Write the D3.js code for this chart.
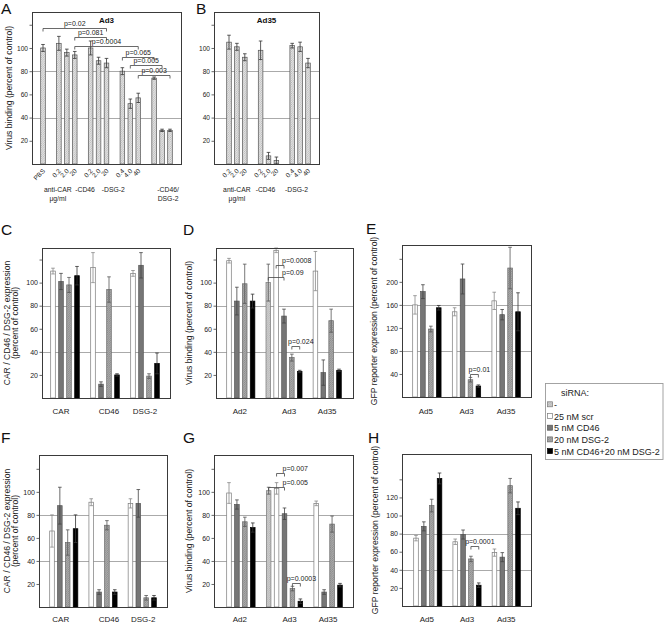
<!DOCTYPE html>
<html><head><meta charset="utf-8">
<script src="https://cdn.jsdelivr.net/npm/d3@7"></script>
<style>body{margin:0;background:#fff}svg{display:block}</style>
</head><body><svg id="c" width="664" height="624"></svg>
<script>
const FONT = '"Liberation Sans", Arial, Helvetica, sans-serif';
const seriesNames = ["-", "25 nM scr", "5 nM CD46", "20 nM DSG-2", "5 nM CD46+20 nM DSG-2"];

// ---------- Panel A (Ad3, antibody blocking) ----------
const aBarLabels = ["PBS","0.2","2.0","20","0.2","2.0","20","0.4","4.0","40","","",""];
const aGroupSizes = [1,3,3,3,3];
const aValues = [100,104,96,94,100,89,87,80,52,57,74,29,29];
const aErrors = [3,6,3,3,6,3,4,3,4,4,1,1,1];
const aGroupLabels = [null,["anti-CAR","μg/ml"],["-CD46"],["-DSG-2"],["-CD46/","DSG-2"]];
const aPvals = [
  {a:0,b:6,level:117,text:"p=0.02"},
  {a:3,b:6,level:109.5,text:"p=0.081"},
  {a:3,b:9,level:102,text:"p=0.0004"},
  {a:7,b:10,level:92,text:"p=0.065"},
  {a:8,b:11,level:85,text:"p=0.005"},
  {a:9,b:12,level:77,text:"p=0.003"}
];

// ---------- Panel B (Ad35, antibody blocking) ----------
const bBarLabels = ["0.2","2.0","20","0.2","2.0","20","0.4","4.0","40"];
const bGroupSizes = [3,3,3];
const bValues = [105,101,92,98,7,3,102,101,87];
const bErrors = [6,3,3,8,3,3,2,4,4];
const bGroupLabels = [["anti-CAR","μg/ml"],["-CD46"],["-DSG-2"]];

const yTicks130 = [20,40,60,80,100,120];
const yTickLabels130 = ["20","40","60","80","100",""];

// ---------- Panel C (receptor expression, siRNA) ----------
const cCategories = ["CAR","CD46","DSG-2"];
const cNone  = [null,null,null];
const cScr   = [110,113,108];
const cCD46  = [101,12,115];
const cDSG   = [98,94,19];
const cBoth  = [106,20,30];
const cErrScr  = [2.5,13,2.5];
const cErrCD46 = [7,2,11];
const cErrDSG  = [6.5,11,2];
const cErrBoth = [8,1,9];

// ---------- Panel D (virus binding, siRNA) ----------
const dCategories = ["Ad2","Ad3","Ad35"];
const dNone  = [null,100,null];
const dScr   = [119,128,110];
const dCD46  = [84,71,22];
const dDSG   = [99,35,67];
const dBoth  = [84,23,24];
const dErrNone = [null,16,null];
const dErrScr  = [2,2,17];
const dErrCD46 = [12,6,11];
const dErrDSG  = [17,3,10];
const dErrBoth = [6,1,1];
const dPvals = [
  {cat:1,a:1,b:2,level:115,text:"p=0.0008",pos:"start"},
  {cat:1,a:0,b:2,level:105,text:"p=0.09",pos:"start"},
  {cat:1,a:3,b:4,level:45,text:"p=0.024",pos:"mid"}
];

// ---------- Panel E (GFP expression, siRNA) ----------
const eCategories = ["Ad5","Ad3","Ad35"];
const eScr   = [160,148,167];
const eCD46  = [183,205,143];
const eDSG   = [118,30,224];
const eBoth  = [155,19,148];
const eErrScr  = [16,7,15];
const eErrCD46 = [12,26,9];
const eErrDSG  = [5,4,36];
const eErrBoth = [4,2,33];
const eTicks = [40,80,120,160,200,240];
const eTickLabels = ["40","80","120","160","200",""];
const ePvals = [{cat:1,a:3,b:4,level:40,text:"p=0.01",pos:"mid"}];

// ---------- Panel F ----------
const fScr   = [66,91,90];
const fCD46  = [88,13,90];
const fDSG   = [56,71,8];
const fBoth  = [68,13,8];
const fErrScr  = [14,3,4];
const fErrCD46 = [16,2,12];
const fErrDSG  = [11,4,2];
const fErrBoth = [12,2,2];

// ---------- Panel G ----------
const gNone  = [null,101,null];
const gScr   = [99,103,90];
const gCD46  = [89,81,13];
const gDSG   = [74,16,72];
const gBoth  = [69,5,19];
const gErrNone = [null,3,null];
const gErrScr  = [9,5,2];
const gErrCD46 = [4,5,2];
const gErrDSG  = [4,2,7];
const gErrBoth = [4,2,1.5];
const gPvals = [
  {cat:1,a:1,b:2,level:116,text:"p=0.007",pos:"start"},
  {cat:1,a:0,b:2,level:104,text:"p=0.005",pos:"start"},
  {cat:1,a:3,b:4,level:21,text:"p=0.0003",pos:"mid"}
];

// ---------- Panel H ----------
const hScr   = [75,71,59];
const hCD46  = [88,79,54];
const hDSG   = [111,52,133];
const hBoth  = [141,23,108];
const hErrScr  = [3,3,4];
const hErrCD46 = [5,5,5];
const hErrDSG  = [7,3,8];
const hErrBoth = [6,2.5,7];
const hTicks = [20,40,60,80,100,120,140];
const hTickLabels = ["20","40","60","80","100","120",""];
const hPvals = [{cat:1,a:3,b:4,level:66,text:"p=0.0001",pos:"mid"}];

// ================= drawing =================
const svg = d3.select("#c").attr("font-family", FONT);
const defs = svg.append("defs");
function hatch(id, bg, fg){
  const p = defs.append("pattern").attr("id",id).attr("patternUnits","userSpaceOnUse")
    .attr("width",2.2).attr("height",2.2);
  p.append("rect").attr("width",2.2).attr("height",2.2).attr("fill",bg);
  p.append("path").attr("d","M0,2.2L2.2,0M-0.5,0.5L0.5,-0.5M1.7,2.7L2.7,1.7")
    .attr("stroke",fg).attr("stroke-width",0.7);
}
hatch("abHatch","#e2e2e2","#b4b4b4");
hatch("dsgHatch","#a9a9a9","#858585");
hatch("lgHatch","#cbcbcb","#b5b5b5");

const seriesStyle = [
  {fill:"url(#lgHatch)", stroke:"#7a7a7a", err:"#555"},
  {fill:"#ffffff", stroke:"#7a7a7a", err:"#888"},
  {fill:"#767676", stroke:"#555", err:"#444"},
  {fill:"url(#dsgHatch)", stroke:"#6a6a6a", err:"#555"},
  {fill:"#000000", stroke:"#000", err:"#333"}
];
const abStyle = {fill:"url(#abHatch)", stroke:"#555", err:"#333"};

function flatBars(groupSizes, values, errors, labels){
  const bars=[]; let slot=0, i=0;
  groupSizes.forEach((n,gi)=>{
    if(gi>0) slot++;
    for(let k=0;k<n;k++){ bars.push({g:gi, v:values[i], e:errors[i], label:labels[i], slot:slot++, style:abStyle}); i++; }
  });
  return {bars, nSlots:slot};
}
function groupedBars(nCats, vals, errs){
  const bars=[]; let slot=0;
  for(let ci=0; ci<nCats; ci++){
    if(ci>0) slot++;
    vals.forEach((arr,si)=>{
      if(arr && arr[ci]!=null){ bars.push({g:ci, s:si, v:arr[ci], e:errs[si][ci], slot:slot++, style:seriesStyle[si]}); }
    });
  }
  return {bars, nSlots:slot};
}

function drawPanel(cfg){
  const g = svg.append("g");
  const f = cfg.frame;
  const y = d3.scaleLinear().domain([0,cfg.yMax]).range([f.y1,f.y0]);
  const x = d3.scaleLinear().domain([0,cfg.nSlots-1]).range(cfg.slotRange);
  const bw = cfg.bw || 4.6;
  // gridlines
  g.selectAll("line.grid").data(cfg.grid).join("line").attr("class","grid")
    .attr("x1",f.x0).attr("x2",f.x1).attr("y1",d=>Math.round(y(d))+0.5).attr("y2",d=>Math.round(y(d))+0.5)
    .attr("stroke","#a0a0a0").attr("stroke-width",0.9);
  // bars
  g.selectAll("rect.bar").data(cfg.bars).join("rect").attr("class","bar")
    .attr("x",d=>x(d.slot)-bw/2).attr("width",bw)
    .attr("y",d=>y(d.v)).attr("height",d=>y(0)-y(d.v))
    .attr("fill",d=>d.style.fill).attr("stroke",d=>d.style.stroke).attr("stroke-width",0.7);
  // error bars
  const eb = g.selectAll("g.err").data(cfg.bars.filter(d=>d.e!=null)).join("g").attr("class","err")
    .attr("stroke",d=>d.style.err).attr("stroke-width",0.8);
  eb.append("line").attr("x1",d=>x(d.slot)).attr("x2",d=>x(d.slot))
    .attr("y1",d=>y(d.v+d.e)).attr("y2",d=>y(Math.max(0,d.v-d.e)));
  eb.append("line").attr("x1",d=>x(d.slot)-1.8).attr("x2",d=>x(d.slot)+1.8)
    .attr("y1",d=>y(d.v+d.e)).attr("y2",d=>y(d.v+d.e));
  eb.append("line").attr("x1",d=>x(d.slot)-1.8).attr("x2",d=>x(d.slot)+1.8)
    .attr("y1",d=>y(Math.max(0,d.v-d.e))).attr("y2",d=>y(Math.max(0,d.v-d.e)));
  // frame
  g.append("rect").attr("x",f.x0+0.5).attr("y",f.y0+0.5).attr("width",f.x1-f.x0).attr("height",f.y1-f.y0)
    .attr("fill","none").attr("stroke","#3a3a3a").attr("stroke-width",1);
  // y axis
  const ax = g.append("g").attr("transform",`translate(${f.x0+0.5},0)`)
    .call(d3.axisLeft(y).tickValues(cfg.ticks).tickSize(3).tickPadding(1.5).tickFormat((d,i)=>cfg.tickLabels[i]));
  ax.attr("font-family",FONT);
  ax.select(".domain").remove();
  ax.selectAll("line").attr("stroke","#444").attr("stroke-width",0.8);
  ax.selectAll("text").attr("font-size",cfg.tickFont||7).attr("fill","#222");
  // p-value brackets
  (cfg.pvals||[]).forEach(p=>{
    const ba = p.barA, bb = p.barB;
    const xa = x(ba.slot), xb = x(bb.slot), yy = Math.round(y(p.level))+0.5;
    g.append("path").attr("d",`M${xa},${yy+3}V${yy}H${xb}V${yy+3}`)
      .attr("fill","none").attr("stroke","#444").attr("stroke-width",0.8);
    const t = g.append("text").attr("y",yy-2.5).attr("font-size",7).attr("fill","#222").text(p.text);
    if(p.pos==="start") t.attr("x",xb-2).attr("text-anchor","start");
    else if(p.pos==="mid") t.attr("x",(xa+xb)/2+5).attr("text-anchor","middle");
    else t.attr("x",(xa+xb)/2).attr("text-anchor","middle");
  });
  // category labels
  (cfg.catLabels||[]).forEach((c,i)=>{
    if(!c) return;
    const bs = cfg.bars.filter(b=>b.g===i);
    const cx = d3.mean(bs,b=>x(b.slot)) + (cfg.catDx ? cfg.catDx[i] : 0);
    const lines = Array.isArray(c)?c:[c];
    lines.forEach((l,li)=>{
      g.append("text").attr("x",cx).attr("y",cfg.catY+li*8.5).attr("text-anchor","middle")
        .attr("font-size",cfg.catFont||8).attr("fill","#222").text(l);
    });
  });
  // rotated bar labels
  if(cfg.barLabels){
    cfg.bars.forEach(b=>{
      if(!b.label) return;
      g.append("text").attr("transform",`translate(${x(b.slot)+2.5},${f.y1+7.5}) rotate(-45)`)
        .attr("text-anchor","end").attr("font-size",6.5).attr("fill","#222").text(b.label);
    });
  }
  // y title
  if(cfg.yTitle){
    cfg.yTitle.lines.forEach((l,li)=>{
      g.append("text").attr("transform",`translate(${cfg.yTitle.x[li]},${(f.y0+f.y1)/2}) rotate(-90)`)
        .attr("text-anchor","middle").attr("font-size",8.6).attr("fill","#222").text(l);
    });
  }
  if(cfg.title){
    g.append("text").attr("x",(f.x0+f.x1)/2).attr("y",f.y0+10.5).attr("text-anchor","middle")
      .attr("font-size",8).attr("font-weight","bold").attr("fill","#111").text(cfg.title);
  }
  g.append("text").attr("x",cfg.letter.x).attr("y",cfg.letter.y).attr("font-size",15.5).attr("fill","#111").text(cfg.letter.t);
  return {x,y};
}
function resolvePvals(pvals, bars, byIndex){
  return pvals.map(p=>{
    if(byIndex) return Object.assign({}, p, {barA:bars[p.a], barB:bars[p.b]});
    const inCat = bars.filter(b=>b.g===p.cat);
    return Object.assign({}, p, {barA:inCat.find(b=>b.s===p.a), barB:inCat.find(b=>b.s===p.b)});
  });
}

const vbTitle = "Virus binding (percent of control)";
const gfpTitle = "GFP reporter expression (percent of control)";
const exprTitle = ["CAR / CD46 / DSG-2 expression","(percent of control)"];

// A
const A = flatBars(aGroupSizes, aValues, aErrors, aBarLabels);
drawPanel({frame:{x0:32,x1:181,y0:12,y1:164}, slotRange:[43,170], nSlots:A.nSlots, bars:A.bars,
  yMax:131, ticks:yTicks130, tickLabels:yTickLabels130, tickFont:6.6, grid:[40,80],
  pvals:resolvePvals(aPvals, A.bars, true), barLabels:true,
  catLabels:aGroupLabels, catDx:[0,-9,-13.5,-17,6], catY:192, catFont:6.8,
  yTitle:{lines:[vbTitle], x:[12]}, title:"Ad3", letter:{t:"A",x:1,y:14}});
// B
const B = flatBars(bGroupSizes, bValues, bErrors, bBarLabels);
drawPanel({frame:{x0:214,x1:319,y0:12,y1:164}, slotRange:[229,308], nSlots:B.nSlots, bars:B.bars,
  yMax:131, ticks:yTicks130, tickLabels:yTickLabels130, tickFont:6.6, grid:[40,80], barLabels:true,
  catLabels:bGroupLabels, catDx:[0,-3,-3.5], catY:192, catFont:6.8,
  title:"Ad35", letter:{t:"B",x:196,y:14}});
// C
const C = groupedBars(3, [cNone,cScr,cCD46,cDSG,cBoth], [cNone,cErrScr,cErrCD46,cErrDSG,cErrBoth]);
drawPanel({frame:{x0:42,x1:170,y0:248,y1:398}, slotRange:[53,157], nSlots:C.nSlots, bars:C.bars,
  yMax:130, ticks:yTicks130, tickLabels:yTickLabels130, grid:[40,80],
  catLabels:cCategories, catDx:[-4,4,0], catY:414,
  yTitle:{lines:exprTitle, x:[10,17.5]}, letter:{t:"C",x:1,y:235}});
// D
const D = groupedBars(3, [dNone,dScr,dCD46,dDSG,dBoth], [dErrNone,dErrScr,dErrCD46,dErrDSG,dErrBoth]);
drawPanel({frame:{x0:216,x1:353,y0:248,y1:398}, slotRange:[229,339], nSlots:D.nSlots, bars:D.bars,
  yMax:130, ticks:yTicks130, tickLabels:yTickLabels130, grid:[40,80],
  pvals:resolvePvals(dPvals, D.bars, false),
  catLabels:dCategories, catDx:[-1,5,0], catY:414,
  yTitle:{lines:[vbTitle], x:[192]}, letter:{t:"D",x:183,y:235}});
// E
const E = groupedBars(3, [cNone,eScr,eCD46,eDSG,eBoth], [cNone,eErrScr,eErrCD46,eErrDSG,eErrBoth]);
drawPanel({frame:{x0:402,x1:531,y0:245,y1:397}, slotRange:[415,518], nSlots:E.nSlots, bars:E.bars,
  yMax:264, ticks:eTicks, tickLabels:eTickLabels, grid:[80,160],
  pvals:resolvePvals(ePvals, E.bars, false),
  catLabels:eCategories, catDx:[-1,0,0], catY:414,
  yTitle:{lines:[gfpTitle], x:[377]}, letter:{t:"E",x:366,y:234}});
// F
const F = groupedBars(3, [cNone,fScr,fCD46,fDSG,fBoth], [cNone,fErrScr,fErrCD46,fErrDSG,fErrBoth]);
drawPanel({frame:{x0:39,x1:167,y0:455,y1:607}, slotRange:[52,154], nSlots:F.nSlots, bars:F.bars,
  yMax:132, ticks:yTicks130, tickLabels:yTickLabels130, grid:[40,80],
  catLabels:cCategories, catDx:[-3,6,1], catY:622,
  yTitle:{lines:exprTitle, x:[10,17.5]}, letter:{t:"F",x:1,y:443}});
// G
const G = groupedBars(3, [gNone,gScr,gCD46,gDSG,gBoth], [gErrNone,gErrScr,gErrCD46,gErrDSG,gErrBoth]);
drawPanel({frame:{x0:214,x1:353,y0:455,y1:607}, slotRange:[229,340], nSlots:G.nSlots, bars:G.bars,
  yMax:132, ticks:yTicks130, tickLabels:yTickLabels130, grid:[40,80],
  pvals:resolvePvals(gPvals, G.bars, false),
  catLabels:dCategories, catDx:[-1,5,0], catY:622,
  yTitle:{lines:[vbTitle], x:[192]}, letter:{t:"G",x:183,y:443}});
// H
const H = groupedBars(3, [cNone,hScr,hCD46,hDSG,hBoth], [cNone,hErrScr,hErrCD46,hErrDSG,hErrBoth]);
drawPanel({frame:{x0:402,x1:531,y0:454,y1:606}, slotRange:[416,518], nSlots:H.nSlots, bars:H.bars,
  yMax:168, ticks:hTicks, tickLabels:hTickLabels, grid:[40,80],
  pvals:resolvePvals(hPvals, H.bars, false),
  catLabels:eCategories, catDx:[-1,0,0], catY:622,
  yTitle:{lines:[gfpTitle], x:[378]}, letter:{t:"H",x:368,y:443}});

// legend
const lg = svg.append("g");
lg.append("rect").attr("x",545.5).attr("y",383.5).attr("width",117.5).attr("height",76)
  .attr("fill","#fff").attr("stroke","#9a9a9a").attr("stroke-width",0.9);
lg.append("text").attr("x",561).attr("y",396).attr("font-size",9).attr("fill","#222").text("siRNA:");
const li = lg.selectAll("g.item").data(seriesNames).join("g").attr("class","item")
  .attr("transform",(d,i)=>`translate(547.5,${407.8+i*11.7})`);
li.append("rect").attr("x",0).attr("y",-6).attr("width",5).attr("height",5)
  .attr("fill",(d,i)=>seriesStyle[i].fill).attr("stroke",(d,i)=>seriesStyle[i].stroke).attr("stroke-width",0.7);
li.append("text").attr("x",6.5).attr("y",0).attr("font-size",9).attr("fill","#222").text(d=>d);
</script></body></html>
